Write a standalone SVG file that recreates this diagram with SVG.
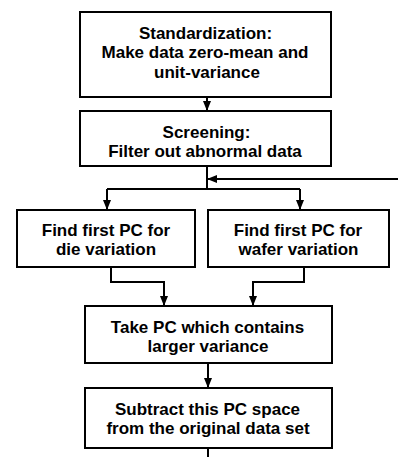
<svg xmlns="http://www.w3.org/2000/svg" width="398" height="457" viewBox="0 0 398 457">
<style>
.box{fill:#fff;stroke:#000;stroke-width:2}
.t{font-family:"Liberation Sans",Arial,sans-serif;font-weight:bold;font-size:17px;text-anchor:middle;fill:#000}
.c{fill:none;stroke:#000;stroke-width:2}
</style>
<defs>
<marker id="ah" viewBox="0 0 10 8" refX="10" refY="4" markerWidth="10" markerHeight="8" markerUnits="userSpaceOnUse" orient="auto">
<path d="M0,0L10,4L0,8z" fill="#000"/>
</marker>
</defs>
<rect width="398" height="457" fill="#fff"/>
<g id="connectors">
<path class="c" d="M207,97V111" marker-end="url(#ah)"/>
<path class="c" d="M207,166V189"/>
<path class="c" d="M107,189H300"/>
<path class="c" d="M107,189V210" marker-end="url(#ah)"/>
<path class="c" d="M300,189V210" marker-end="url(#ah)"/>
<path class="c" d="M398,179H207" marker-end="url(#ah)"/>
<path class="c" d="M111,267V282H164V306" marker-end="url(#ah)"/>
<path class="c" d="M304,267V282H253V306" marker-end="url(#ah)"/>
<path class="c" d="M208,363V388" marker-end="url(#ah)"/>
<path class="c" d="M208,448V457"/>
</g>
<g id="standardization">
<rect class="box" x="80" y="12" width="251" height="85"/>
<text class="t" x="205.5" y="38.5">Standardization:</text>
<text class="t" x="205" y="58">Make data zero-mean and</text>
<text class="t" x="207" y="77.5">unit-variance</text>
</g>
<g id="screening">
<rect class="box" x="80" y="111" width="251" height="55"/>
<text class="t" x="206.5" y="138">Screening:</text>
<text class="t" x="205" y="157">Filter out abnormal data</text>
</g>
<g id="die">
<rect class="box" x="17" y="210" width="178" height="57"/>
<text class="t" x="106" y="236">Find first PC for</text>
<text class="t" x="106" y="255">die variation</text>
</g>
<g id="wafer">
<rect class="box" x="208" y="210" width="181" height="57"/>
<text class="t" x="298" y="236">Find first PC for</text>
<text class="t" x="298.5" y="255">wafer variation</text>
</g>
<g id="take">
<rect class="box" x="85" y="306" width="247" height="57"/>
<text class="t" x="207.5" y="333">Take PC which contains</text>
<text class="t" x="208" y="352">larger variance</text>
</g>
<g id="subtract">
<rect class="box" x="85" y="388" width="247" height="60"/>
<text class="t" x="207.5" y="415">Subtract this PC space</text>
<text class="t" x="208" y="434">from the original data set</text>
</g>
</svg>
